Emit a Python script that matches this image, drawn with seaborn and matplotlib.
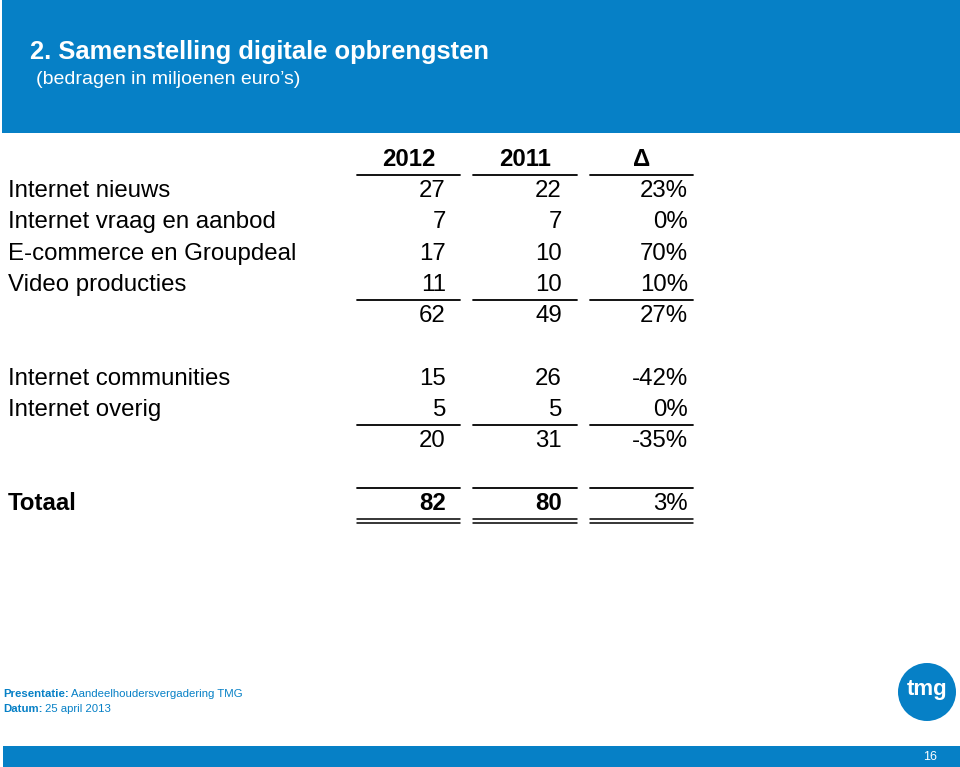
# digitale opbrengsten - tabel als figuur

import matplotlib
matplotlib.use("Agg")
import matplotlib.pyplot as plt
from matplotlib.patches import Rectangle, Circle
import pandas as pd
import seaborn as sns

sns.set_theme(style="white")
plt.rcParams["font.family"] = ["Liberation Sans", "DejaVu Sans"]
plt.rcParams["text.color"] = "black"

BLUE = "#0680C6"

labels = ["Internet nieuws", "Internet vraag en aanbod", "E-commerce en Groupdeal",
          "Video producties", "", "Internet communities", "Internet overig", "", "Totaal"]
v2012 = [27, 7, 17, 11, 62, 15, 5, 20, 82]
v2011 = [22, 7, 10, 10, 49, 26, 5, 31, 80]
delta = [23, 0, 70, 10, 27, -42, 0, -35, 3]
row_pos = [0, 1, 2, 3, 4, 6, 7, 8, 10]
columns = ["2012", "2011", "\u0394"]

df = pd.DataFrame({"label": labels, "2012": v2012, "2011": v2011, "delta": delta, "row": row_pos})

fig = plt.figure(figsize=(9.6, 7.67), dpi=100)
ax = fig.add_axes([0, 0, 1, 1])
ax.set_xlim(0, 960)
ax.set_ylim(767, 0)
ax.axis("off")

# kop
ax.add_patch(Rectangle((2, 0), 958, 133, color=BLUE, lw=0))
ax.text(30, 52, "2. Samenstelling digitale opbrengsten", color="white",
        fontsize=18.4, fontweight="bold", va="center")
ax.text(36, 79, "(bedragen in miljoenen euro\u2019s)", color="white", fontsize=14, va="center")

# tabel
y0, step = 191, 31.3
col_x = [(357, 460, 446), (473, 577, 562), (590, 693, 688)]
fs = 17.3

def ypos(r):
    return y0 + step * r

for (x0, x1, _), name in zip(col_x, columns):
    ax.text((x0 + x1) / 2, ypos(-1), name, ha="center", va="center",
            fontsize=fs, fontweight="bold")

for _, r in df.iterrows():
    y = ypos(r["row"])
    bold = r["label"] == "Totaal"
    w = "bold" if bold else "normal"
    ax.text(8, y, r["label"], va="center", fontsize=fs, fontweight=w)
    ax.text(col_x[0][2], y, f"{r['2012']}", ha="right", va="center", fontsize=fs, fontweight=w)
    ax.text(col_x[1][2], y, f"{r['2011']}", ha="right", va="center", fontsize=fs, fontweight=w)
    ax.text(col_x[2][2], y, f"{r['delta']}%", ha="right", va="center", fontsize=fs)

# lijnen
for rl in [-0.5, 3.5, 7.5, 9.5]:
    for x0, x1, _ in col_x:
        ax.plot([x0, x1], [ypos(rl) - 0.5, ypos(rl) - 0.5], color="black", lw=1.3)
for yy in [ypos(10.5) - 1, ypos(10.5) + 3]:
    for x0, x1, _ in col_x:
        ax.plot([x0, x1], [yy, yy], color="black", lw=1.1)

# voet
ax.text(3, 694, "Presentatie:", color=BLUE, fontsize=8.2, fontweight="bold", va="center")
ax.text(71, 694, "Aandeelhoudersvergadering TMG", color=BLUE, fontsize=8.2, va="center")
ax.text(3, 709, "Datum:", color=BLUE, fontsize=8.2, fontweight="bold", va="center")
ax.text(45, 709, "25 april 2013", color=BLUE, fontsize=8.2, va="center")

ax.add_patch(Circle((927, 692), 29, color=BLUE, lw=0))
ax.text(927, 690, "tmg", color="white", fontsize=16, fontweight="bold", ha="center", va="center")

ax.add_patch(Rectangle((3, 746), 957, 21, color=BLUE, lw=0))
ax.text(930, 757, "16", color="white", fontsize=9, ha="center", va="center")

fig.savefig("out.png", dpi=100)
